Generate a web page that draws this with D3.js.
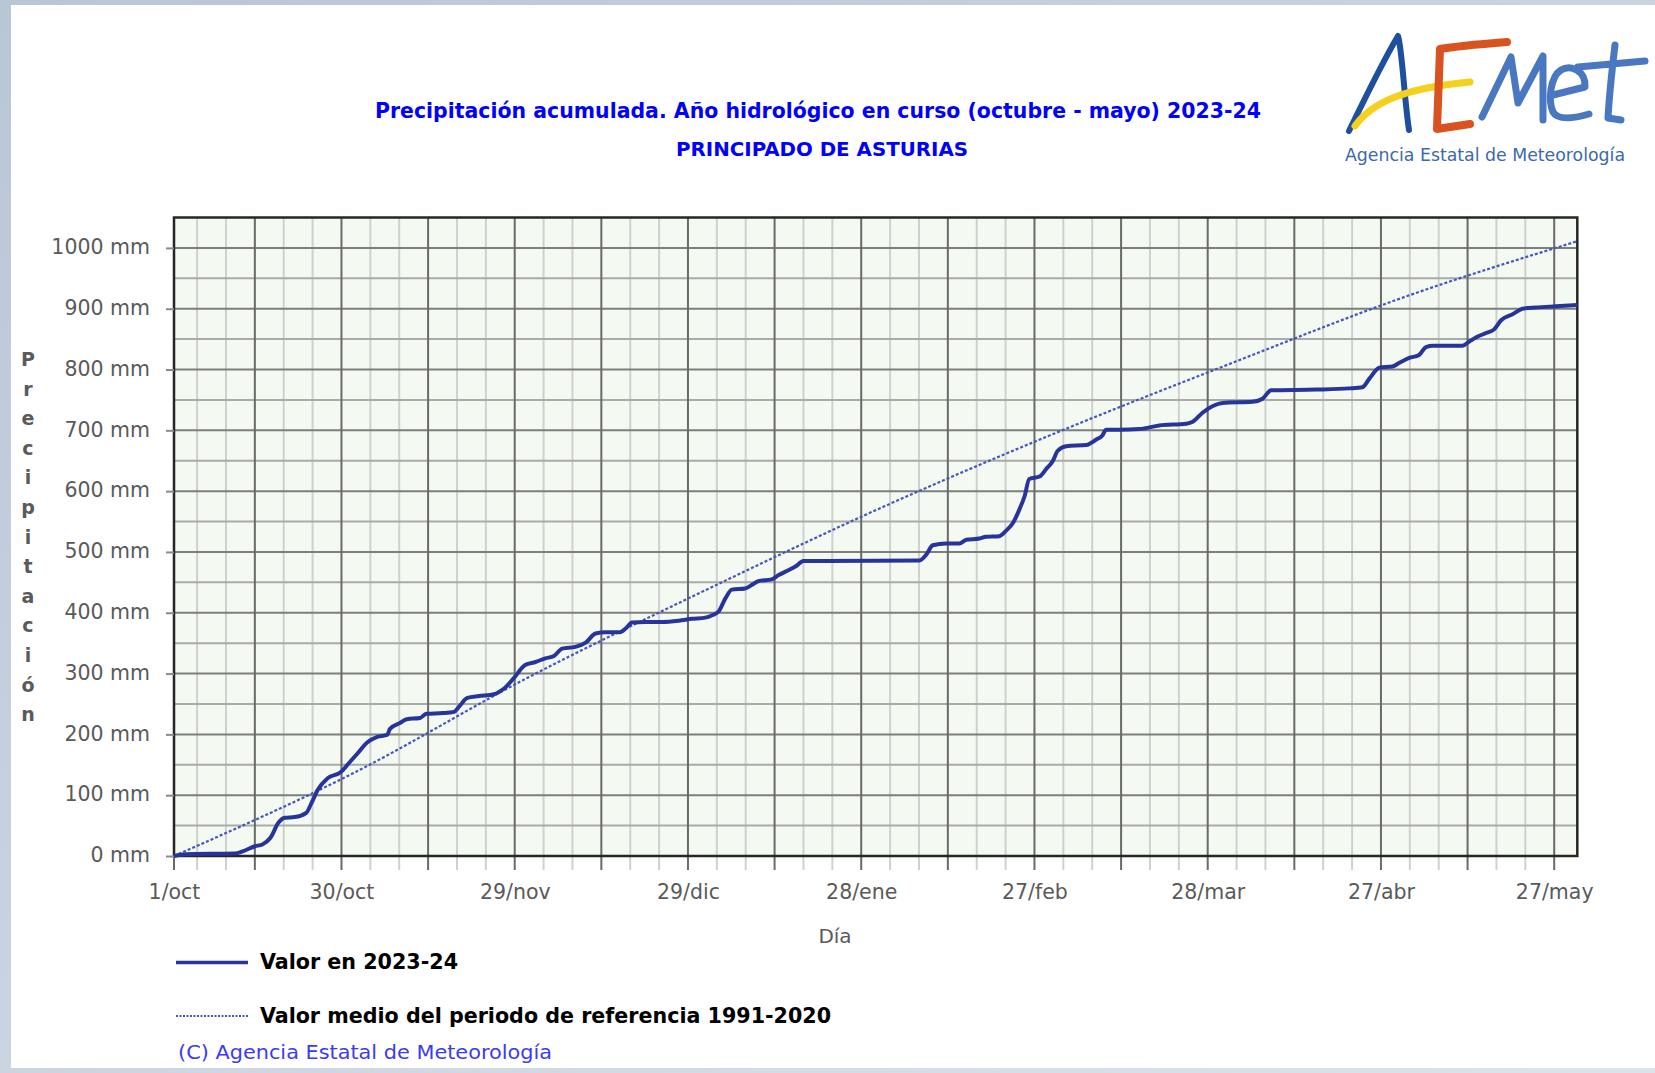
<!DOCTYPE html>
<html>
<head>
<meta charset="utf-8">
<script src="https://cdn.jsdelivr.net/npm/d3@7"></script>
<style>
body { margin: 0; background: #c6d0dc; overflow: hidden; }
text { font-family: "DejaVu Sans", Verdana, sans-serif; }
</style>
</head>
<body>
<script>
var width = 1655;
var height = 1073;

// serie 2023-24: dia del año hidrologico (0 = 1/oct) y acumulado en mm
var dias = [0,2,10.5,12,14,15.3,16.7,18.1,19.2,20.9,22.9,23.8,24.9,26.6,28.9,30.3,31.8,33.5,35.2,36.9,
  37.4,39.2,40.3,42.6,43.7,46.6,48.5,49.4,50.8,52.8,55.4,57.1,58.8,60.8,62.6,64.3,65.8,67.2,69.5,71.3,
  73,74.7,77.3,78.2,79.3,81.6,84.5,87.4,89.7,92,93.2,94.3,95.5,96.6,98.9,100.1,101.2,103.5,104.7,106.4,
  107.6,109,113.4,129.1,130.3,131.4,133.7,136,137.2,139.5,140.6,142.9,144.1,145.3,146.4,147.3,148.1,149.9,151,152.2,
  153,154.5,158,159.7,160.8,161.4,163.7,167.2,170.6,175.3,176.4,178.1,179.9,181.6,186.8,188.5,190,197.8,
  203.5,205.8,207,208.7,211,212.2,213.9,215.6,216.8,218,223.1,224.3,225.5,227.2,228.6,229.8,231.8,233.5,235.8,239.3,243];
var valor2324 = [0,3,4,8,16,19,30,55,63,64,71,87,109,128,138,153,169,187,196,199,
  209,219,225,227,234,235,237,246,260,263,266,275,292,314,319,325,329,341,344,351,
  366,368,368,374,384,385,385,387,390,392,396,402,424,438,440,446,452,455,462,470,
  476,485,485,486,496,511,514,514,520,522,525,526,535,548,570,592,620,624,636,650,
  666,674,676,685,692,701,701,702,708,711,714,729,740,745,747,752,766,767,
  769,771,785,803,805,811,819,824,837,839,839,846,853,860,866,881,891,900,902,904,906];

// valor medio 1991-2020 (inicio de cada mes)
var refDias = [0,31,61,92,123,152,183,213,243];
var refValor = [0,136,292,437,575,693,810,919,1011];

// eje x
var tickDias = [0,29,59,89,119,149,179,209,239];
var tickLabels = ["1/oct","30/oct","29/nov","29/dic","28/ene","27/feb","28/mar","27/abr","27/may"];
var yTicks = [0,100,200,300,400,500,600,700,800,900,1000];

var x = d3.scaleLinear().domain([0, 243]).range([174, 1577.3]);
var y = d3.scaleLinear().domain([0, 1050]).range([856, 217.5]);

var svg = d3.select("body").append("svg")
  .attr("width", width)
  .attr("height", height);

// fondo tipo escritorio + panel blanco
var defs = svg.append("defs");
var grad = defs.append("linearGradient").attr("id", "fondo")
  .attr("x1", 0).attr("y1", 0).attr("x2", 1).attr("y2", 1);
grad.append("stop").attr("offset", "0%").attr("stop-color", "#b9c6d6");
grad.append("stop").attr("offset", "100%").attr("stop-color", "#dde3ea");
svg.append("rect").attr("width", width).attr("height", height).attr("fill", "url(#fondo)");
svg.append("rect").attr("x", 11).attr("y", 5).attr("width", width - 11).attr("height", 1063).attr("fill", "#ffffff");

// titulo
svg.append("text")
  .attr("x", 375).attr("y", 118)
  .attr("textLength", 886).attr("lengthAdjust", "spacingAndGlyphs")
  .style("font-family", "'DejaVu Sans Condensed','DejaVu Sans'")
  .style("font-weight", "bold").style("font-size", "21.5px").style("fill", "#0000ff")
  .text("Precipitación acumulada. Año hidrológico en curso (octubre - mayo) 2023-24");
svg.append("text")
  .attr("x", 676).attr("y", 156)
  .attr("textLength", 292).attr("lengthAdjust", "spacingAndGlyphs")
  .style("font-family", "'DejaVu Sans Condensed','DejaVu Sans'")
  .style("font-weight", "bold").style("font-size", "20px").style("fill", "#0000ff")
  .text("PRINCIPADO DE ASTURIAS");

// logo AEMET (dibujo aproximado)
var logo = svg.append("g").attr("fill", "none").attr("stroke-linecap", "round").attr("stroke-linejoin", "round");
logo.append("path").attr("d", "M1349,131 C1366,96 1386,56 1398,36 C1402,48 1404,96 1409,130")
  .attr("stroke", "#1d4f9e").attr("stroke-width", 6);
logo.append("path").attr("d", "M1355,126 C1372,102 1405,88 1470,82")
  .attr("stroke", "#f5d01c").attr("stroke-width", 7);
logo.append("path").attr("d", "M1507,42 C1482,44 1457,46 1440,49 L1437,129 L1470,124")
  .attr("stroke", "#d8531f").attr("stroke-width", 8);
logo.append("path").attr("d", "M1482,117 L1511,57 L1518,103 L1543,56 L1543,120")
  .attr("stroke", "#4a78c0").attr("stroke-width", 7);
logo.append("path").attr("d", "M1553,95 L1585,87 C1586,71 1571,64 1561,70 C1550,77 1548,101 1553,112 C1558,121 1575,118 1589,114")
  .attr("stroke", "#4a78c0").attr("stroke-width", 7);
logo.append("path").attr("d", "M1615,45 C1612,70 1609,100 1608,118 L1621,120 M1578,67 L1645,61")
  .attr("stroke", "#4a78c0").attr("stroke-width", 7);
svg.append("text")
  .attr("x", 1345).attr("y", 161)
  .attr("textLength", 280).attr("lengthAdjust", "spacingAndGlyphs")
  .style("font-family", "'DejaVu Sans Condensed','DejaVu Sans'")
  .style("font-size", "18px").style("fill", "#3c69ad")
  .text("Agencia Estatal de Meteorología");

// area de grafico
svg.append("rect")
  .attr("x", x(0)).attr("y", y(1050))
  .attr("width", x(243) - x(0)).attr("height", y(0) - y(1050))
  .attr("fill", "#f4f9f1");

var gridDias = d3.range(4, 243, 5);
var gridMm = d3.range(50, 1050, 50);
function esMayorDia(d) { return (d - 29) % 15 === 0; }

// lineas verticales menores
svg.append("g").selectAll("line")
  .data(gridDias.filter(function (d) { return !esMayorDia(d); }))
  .enter().append("line")
  .attr("x1", function (d) { return x(d); }).attr("x2", function (d) { return x(d); })
  .attr("y1", y(1050)).attr("y2", y(0) + 14)
  .style("stroke", "#cfd1cf").style("stroke-width", 2);

// lineas horizontales
svg.append("g").selectAll("line")
  .data(gridMm)
  .enter().append("line")
  .attr("x1", x(0)).attr("x2", x(243))
  .attr("y1", function (d) { return y(d); }).attr("y2", function (d) { return y(d); })
  .style("stroke", function (d) { return d % 100 === 0 ? "#7d7f7d" : "#a9aba9"; })
  .style("stroke-width", 2);

// lineas verticales mayores
svg.append("g").selectAll("line")
  .data(gridDias.filter(esMayorDia))
  .enter().append("line")
  .attr("x1", function (d) { return x(d); }).attr("x2", function (d) { return x(d); })
  .attr("y1", y(1050)).attr("y2", y(0) + 14)
  .style("stroke", "#6a6a6a").style("stroke-width", 2);

// marca en 1/oct
svg.append("line")
  .attr("x1", x(0)).attr("x2", x(0)).attr("y1", y(0)).attr("y2", y(0) + 14)
  .style("stroke", "#6a6a6a").style("stroke-width", 2);

// marco
svg.append("rect")
  .attr("x", x(0)).attr("y", y(1050))
  .attr("width", x(243) - x(0)).attr("height", y(0) - y(1050))
  .attr("fill", "none").style("stroke", "#262626").style("stroke-width", 2.5);

// eje y
var yAxis = svg.append("g")
  .attr("transform", "translate(" + x(0) + ",0)")
  .call(d3.axisLeft(y).tickValues(yTicks).tickSize(8).tickPadding(16)
    .tickFormat(function (d) { return d + " mm"; }));
yAxis.select(".domain").remove();
yAxis.selectAll("line").style("stroke", "#8a8a8a").style("stroke-width", 2);
yAxis.selectAll("text")
  .attr("dy", "0.28em")
  .style("font-family", "'DejaVu Sans'").style("font-size", "20.5px").style("fill", "#5a5a5a");

// eje x
var xAxis = svg.append("g")
  .attr("transform", "translate(0," + y(0) + ")")
  .call(d3.axisBottom(x).tickValues(tickDias).tickSize(0).tickPadding(28)
    .tickFormat(function (d, i) { return tickLabels[i]; }));
xAxis.select(".domain").remove();
xAxis.selectAll("text")
  .style("font-family", "'DejaVu Sans'").style("font-size", "20.5px").style("fill", "#5a5a5a");

svg.append("text")
  .attr("x", 835).attr("y", 943).attr("text-anchor", "middle")
  .style("font-size", "20px").style("fill", "#5a5a5a")
  .text("Día");

// titulo eje y, letra a letra
var tituloY = svg.append("text")
  .attr("text-anchor", "middle")
  .style("font-weight", "bold").style("font-size", "19px").style("fill", "#5a5a5a");
tituloY.selectAll("tspan")
  .data("Precipitación".split(""))
  .enter().append("tspan")
  .attr("x", 28)
  .attr("y", function (d, i) { return 366 + i * 29.6; })
  .text(function (d) { return d; });

// series
var serie = dias.map(function (d, i) { return [d, valor2324[i]]; });
var serieRef = refDias.map(function (d, i) { return [d, refValor[i]]; });

var line = d3.line()
  .x(function (d) { return x(d[0]); })
  .y(function (d) { return y(d[1]); })
  .curve(d3.curveMonotoneX);

svg.append("path")
  .datum(serieRef)
  .attr("d", line)
  .attr("fill", "none")
  .style("stroke", "#4656bd").style("stroke-width", 2.2).style("stroke-dasharray", "3,2");

svg.append("path")
  .datum(serie)
  .attr("d", line)
  .attr("fill", "none")
  .style("stroke", "#27359a").style("stroke-width", 4).style("stroke-linejoin", "round");

// leyenda
svg.append("line")
  .attr("x1", 176).attr("x2", 248).attr("y1", 962.5).attr("y2", 962.5)
  .style("stroke", "#27359a").style("stroke-width", 3.5);
svg.append("text")
  .attr("x", 260).attr("y", 969)
  .attr("textLength", 198).attr("lengthAdjust", "spacingAndGlyphs")
  .style("font-family", "'DejaVu Sans Condensed','DejaVu Sans'")
  .style("font-weight", "bold").style("font-size", "20.5px").style("fill", "#000")
  .text("Valor en 2023-24");
svg.append("line")
  .attr("x1", 176).attr("x2", 248).attr("y1", 1016).attr("y2", 1016)
  .style("stroke", "#4656bd").style("stroke-width", 2).style("stroke-dasharray", "2,1.5");
svg.append("text")
  .attr("x", 260).attr("y", 1023)
  .attr("textLength", 571).attr("lengthAdjust", "spacingAndGlyphs")
  .style("font-family", "'DejaVu Sans Condensed','DejaVu Sans'")
  .style("font-weight", "bold").style("font-size", "20.5px").style("fill", "#000")
  .text("Valor medio del periodo de referencia 1991-2020");

svg.append("text")
  .attr("x", 178).attr("y", 1059)
  .attr("textLength", 374).attr("lengthAdjust", "spacingAndGlyphs")
  .style("font-family", "'DejaVu Sans Condensed','DejaVu Sans'")
  .style("font-size", "20px").style("fill", "#3b3bf5")
  .text("(C) Agencia Estatal de Meteorología");
</script>
</body>
</html>
